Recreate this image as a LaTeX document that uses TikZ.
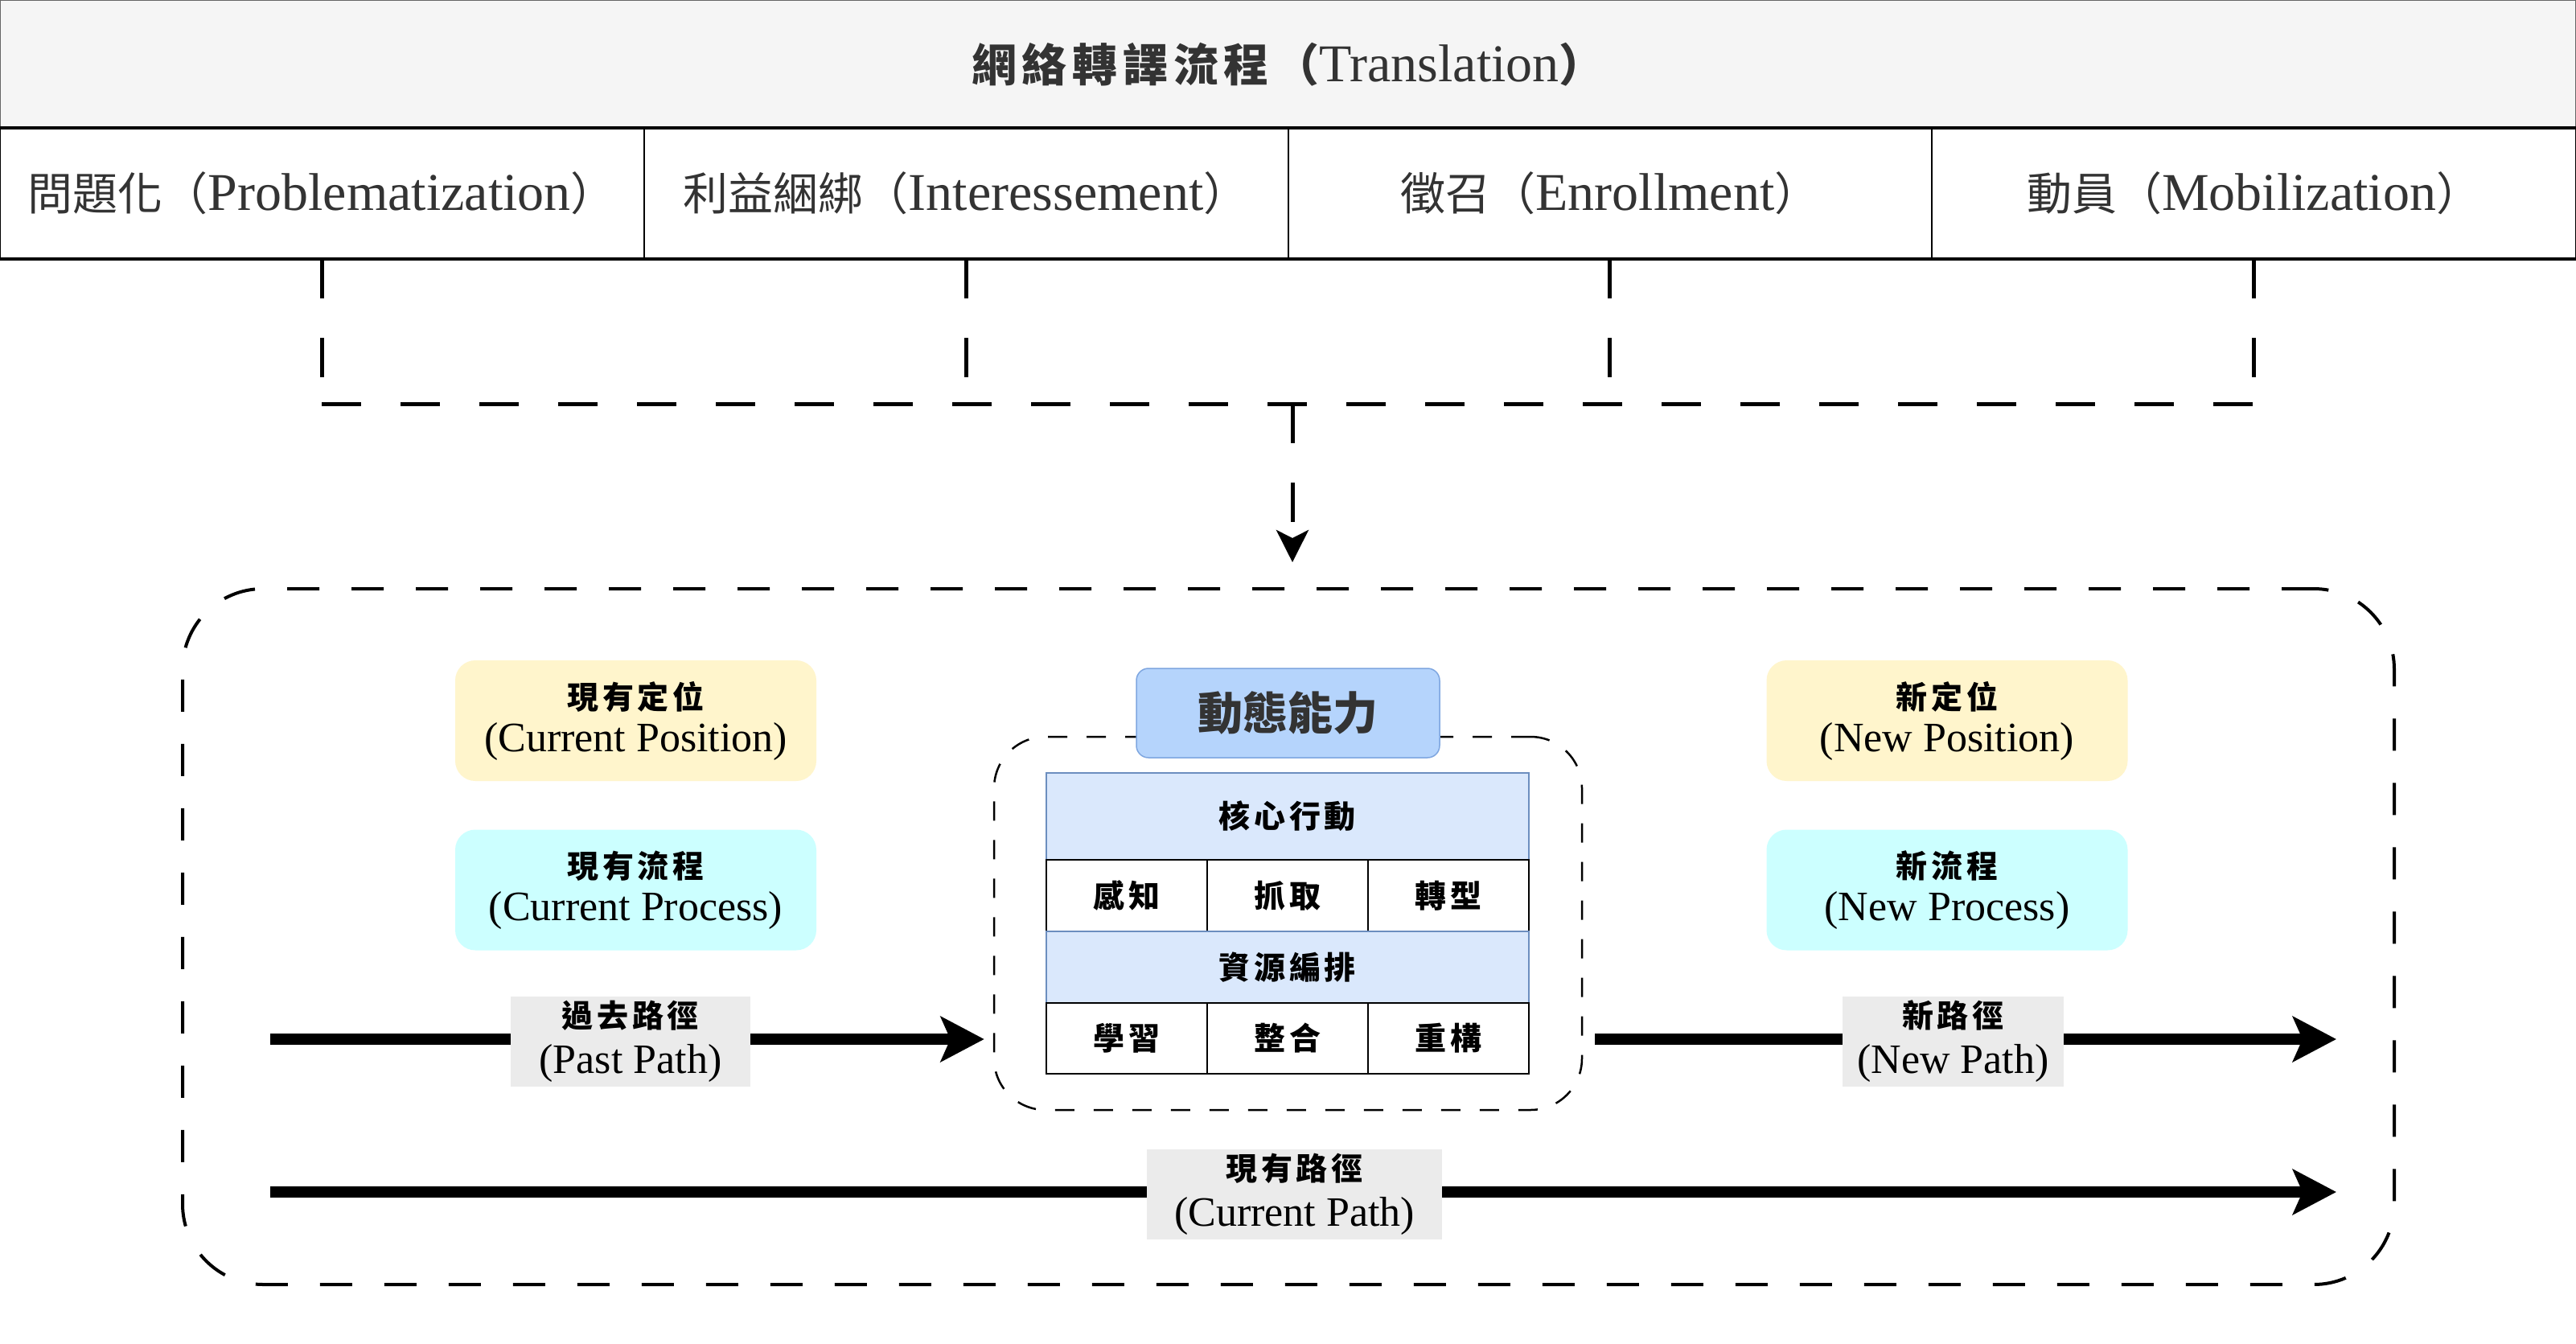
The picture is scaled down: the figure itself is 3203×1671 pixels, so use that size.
\documentclass[tikz,border=0pt]{standalone}
\usepackage{fontspec}
\setmainfont{Liberation Serif}
\newfontfamily\cjk{Noto Sans CJK TC}
\newfontfamily\cjksp{Noto Sans CJK TC}[LetterSpace=12]
\usetikzlibrary{arrows.meta}

\definecolor{hdrfill}{HTML}{F5F5F5}
\definecolor{hdrline}{HTML}{666666}
\definecolor{txt}{HTML}{333333}
\definecolor{posfill}{HTML}{FFF5CC}
\definecolor{procfill}{HTML}{CCFFFF}
\definecolor{pathfill}{HTML}{EBEBEB}
\definecolor{dynfill}{HTML}{B5D4FC}
\definecolor{dynline}{HTML}{7EA6E0}
\definecolor{rowfill}{HTML}{DAE8FC}
\definecolor{rowline}{HTML}{6C8EBF}

% CJK runs at the sizes used by each kind of node
\newcommand\hzh[1]{{\cjksp\bfseries\fontsize{28pt}{28pt}\selectfont #1}}
\newcommand\pzh[1]{{\cjk\fontsize{28pt}{28pt}\selectfont #1}}
\newcommand\szh[1]{{\cjksp\bfseries\fontsize{19.5pt}{19.5pt}\selectfont #1}}
\newcommand\dzh[1]{{\cjk\bfseries\fontsize{28pt}{28pt}\selectfont #1}}

\begin{document}
\begin{tikzpicture}[x=0.5pt,y=-0.5pt,
  hdr/.style={draw=hdrline, fill=hdrfill, line width=1pt, minimum width=1601.5pt,
    minimum height=80pt, inner sep=0pt, text=txt, font=\fontsize{33pt}{33pt}\selectfont},
  phase/.style={draw=black, line width=1pt, minimum width=400.375pt, minimum height=80.5pt,
    inner sep=0pt, text=txt, font=\fontsize{33pt}{33pt}\selectfont},
  link/.style={line width=2.5pt, dash pattern=on 24.5pt off 24.5pt},
  outerbox/.style={draw=black, line width=2pt, dash pattern=on 20pt off 20pt,
    rounded corners=50pt, minimum width=1375pt, minimum height=432.5pt, inner sep=0pt},
  innerbox/.style={draw=black, line width=1.25pt, dash pattern=on 12pt off 12pt,
    rounded corners=32pt, minimum width=365.5pt, minimum height=232pt, inner sep=0pt},
  tag/.style={rounded corners=12.5pt, minimum width=224.5pt, minimum height=75pt,
    inner sep=0pt, align=center, font=\fontsize{26pt}{26.5pt}\selectfont},
  pathtag/.style={fill=pathfill, minimum height=56pt, inner sep=0pt, align=center,
    font=\fontsize{26pt}{28.5pt}\selectfont},
  dyn/.style={draw=dynline, fill=dynfill, line width=0.75pt, rounded corners=7.5pt,
    minimum width=188.5pt, minimum height=55.5pt, inner sep=0pt, text=txt},
  rowhead/.style={draw=rowline, fill=rowfill, line width=0.75pt, minimum width=300pt,
    inner sep=0pt},
  cellbox/.style={draw=black, line width=0.6pt, minimum width=100pt, inner sep=0pt},
  flow/.style={line width=7pt, -{Stealth[length=27pt,width=28pt,inset=6pt]}},
]
\useasboundingbox (0,0) rectangle (3203,1671);
\fill[white] (0,0) rectangle (3203,1671);

% translation header and its four moments
\node[hdr] (title) at (1601.5,80) {\hzh{網絡轉譯流程（}Translation\hzh{）}};
\node[phase] (p1) at (400.375,240.5) {\pzh{問題化（}Problematization\pzh{）}};
\node[phase] (p2) at (1201.125,240.5) {\pzh{利益綑綁（}Interessement\pzh{）}};
\node[phase] (p3) at (2001.875,240.5) {\pzh{徵召（}Enrollment\pzh{）}};
\node[phase] (p4) at (2802.625,240.5) {\pzh{動員（}Mobilization\pzh{）}};
\draw[line width=2pt] (p1.north west) -- (p4.north east);
\draw[line width=2pt] (p1.south west) -- (p4.south east);

% outer frame and dynamic capability frame
\node[outerbox] (outer) at (1602,1164.5) {};
\node[innerbox] (inner) at (1601.5,1148) {};

% dashed links from the four moments into the frame
\coordinate (hub) at (1607,502);
\draw[link] (p1.south) -- (p1.south |- hub);
\draw[link] (p2.south) -- (p2.south |- hub);
\draw[link] (p3.south) -- (p3.south |- hub);
\draw[link] (p4.south) -- (p4.south |- hub);
\draw[link] (p1.south |- hub) -- (p4.south |- hub);
\draw[link, -{Stealth[length=20pt,width=20pt,inset=5pt]}, shorten >=15.5pt]
  (hub) -- (hub |- outer.north);

% positions and processes
\node[tag, fill=posfill] (curpos) at (790.5,896) {\szh{現有定位}\\(Current Position)};
\node[tag, fill=procfill] (curproc) at (790.5,1106.5) {\szh{現有流程}\\(Current Process)};
\node[tag, fill=posfill] (newpos) at (2421,896) {\szh{新定位}\\(New Position)};
\node[tag, fill=procfill] (newproc) at (2421,1106.5) {\szh{新流程}\\(New Process)};

% dynamic capability block
\node[dyn] (dyncap) at (1601.5,886.5) {\dzh{動態能力}};
\node[rowhead, minimum height=54pt] (core) at (1601,1015) {\szh{核心行動}};
\node[cellbox, minimum height=44.5pt] (c1) at (1401,1113.5) {\szh{感知}};
\node[cellbox, minimum height=44.5pt] (c2) at (1601,1113.5) {\szh{抓取}};
\node[cellbox, minimum height=44.5pt] (c3) at (1801,1113.5) {\szh{轉型}};
\node[rowhead, minimum height=44.5pt] (orch) at (1601,1202.5) {\szh{資源編排}};
\node[cellbox, minimum height=44pt] (r1) at (1401,1291) {\szh{學習}};
\node[cellbox, minimum height=44pt] (r2) at (1601,1291) {\szh{整合}};
\node[cellbox, minimum height=44pt] (r3) at (1801,1291) {\szh{重構}};

% paths
\coordinate (pastStart) at (336,1292);
\coordinate (newEnd) at (2905,1292);
\coordinate (curStart) at (336,1482);
\coordinate (curEnd) at (2905,1482);
\draw[flow, shorten >=5.5pt] (pastStart) -- (pastStart -| inner.west);
\draw[flow, shorten <=7.5pt] (newEnd -| inner.east) -- (newEnd);
\draw[flow] (curStart) -- (curEnd);

\node[pathtag, minimum width=149pt] (pastlbl) at (784,1295) {\szh{過去路徑}\\(Past Path)};
\node[pathtag, minimum width=137.5pt] (newlbl) at (2428.5,1294.5) {\szh{新路徑}\\(New Path)};
\node[pathtag, minimum width=183.5pt] (curlbl) at (1609.5,1485) {\szh{現有路徑}\\(Current Path)};
\end{tikzpicture}
\end{document}
